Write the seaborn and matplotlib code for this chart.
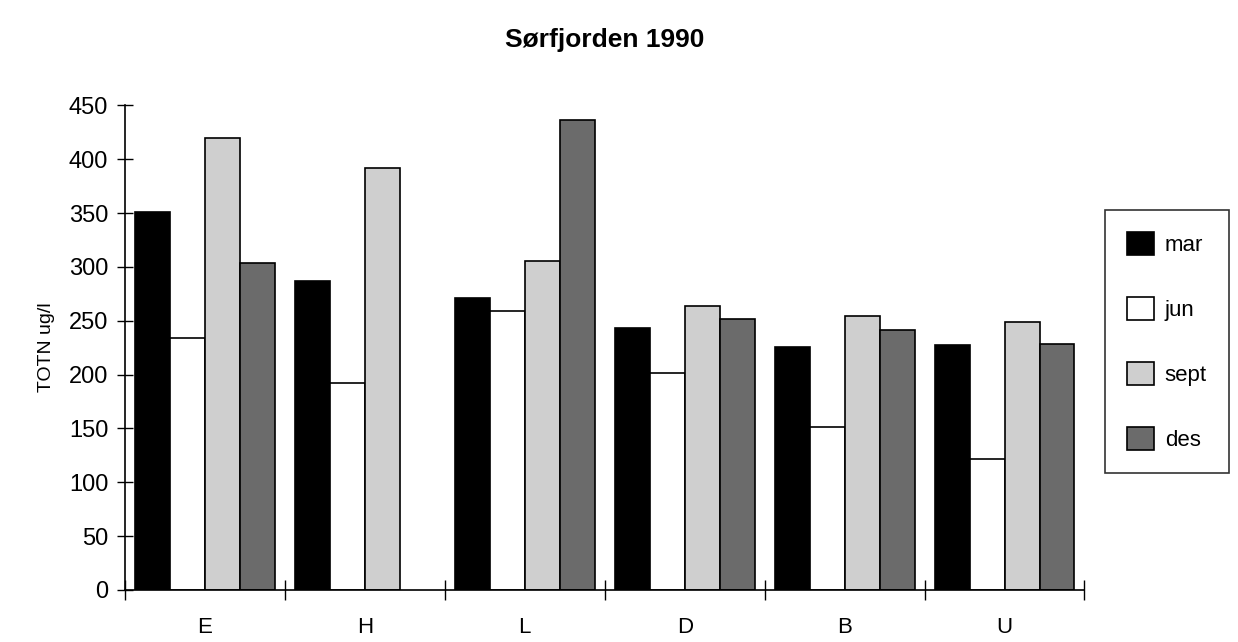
import pandas as pd
import numpy as np
import matplotlib
matplotlib.use("Agg")
import matplotlib.pyplot as plt
import seaborn as sns

# data
stations = ["E", "H", "L", "D", "B", "U"]
months = ["mar", "jun", "sept", "des"]
mar = [351, 287, 271, 243, 226, 227]
jun = [234, 192, 259, 201, 151, 122]
sept = [420, 392, 305, 264, 254, 249]
des = [304, np.nan, 436, 252, 241, 228]

colors = ["#000000", "#ffffff", "#cfcfcf", "#6b6b6b"]

df = pd.DataFrame({"stasjon": stations, "mar": mar, "jun": jun, "sept": sept, "des": des})
df = df.melt(id_vars="stasjon", var_name="mnd", value_name="totn")

sns.set_style("white")
plt.rcParams["font.family"] = ["Liberation Sans", "DejaVu Sans"]
plt.rcParams["text.color"] = "black"
plt.rcParams["xtick.color"] = "black"
plt.rcParams["ytick.color"] = "black"
plt.rcParams["axes.labelcolor"] = "black"

fig = plt.figure(figsize=(12.38, 6.42), dpi=100)
ax = fig.add_axes([0.101, 0.081, 0.775, 0.755])

sns.barplot(data=df, x="stasjon", y="totn", hue="mnd", order=stations,
            hue_order=months, palette=colors, width=0.875, ax=ax,
            edgecolor="black", linewidth=1.2, saturation=1, errorbar=None)

ax.set_ylim(0, 450)
ax.set_xlim(-0.5, len(stations) - 0.5)
ax.set_yticks(range(0, 451, 50))
ax.tick_params(axis="y", left=True, direction="inout", length=12, width=1,
               labelsize=17, pad=6, colors="black")
ax.tick_params(axis="x", which="major", bottom=False, labelsize=16, pad=16)
ax.set_xticks(np.arange(-0.5, len(stations)), minor=True)
ax.tick_params(axis="x", which="minor", bottom=True, direction="inout",
               length=14, width=1, color="black")
ax.set_xlabel("")
ax.set_ylabel("TOTN ug/l", fontsize=14, labelpad=10)

for s in ["top", "right"]:
    ax.spines[s].set_visible(False)
for s in ["left", "bottom"]:
    ax.spines[s].set_color("black")
    ax.spines[s].set_linewidth(1.2)

ax.set_title("Sørfjorden 1990", fontsize=19, fontweight="bold", pad=42)

leg = ax.legend(loc="upper left", bbox_to_anchor=(1.021, 0.784), fontsize=16,
                frameon=True, fancybox=False, edgecolor="black",
                handlelength=1.2, handleheight=1.2, labelspacing=1.85,
                borderpad=1.0, handletextpad=0.5, borderaxespad=0)
leg.get_frame().set_linewidth(1.2)

fig.savefig("out.png", dpi=100)
